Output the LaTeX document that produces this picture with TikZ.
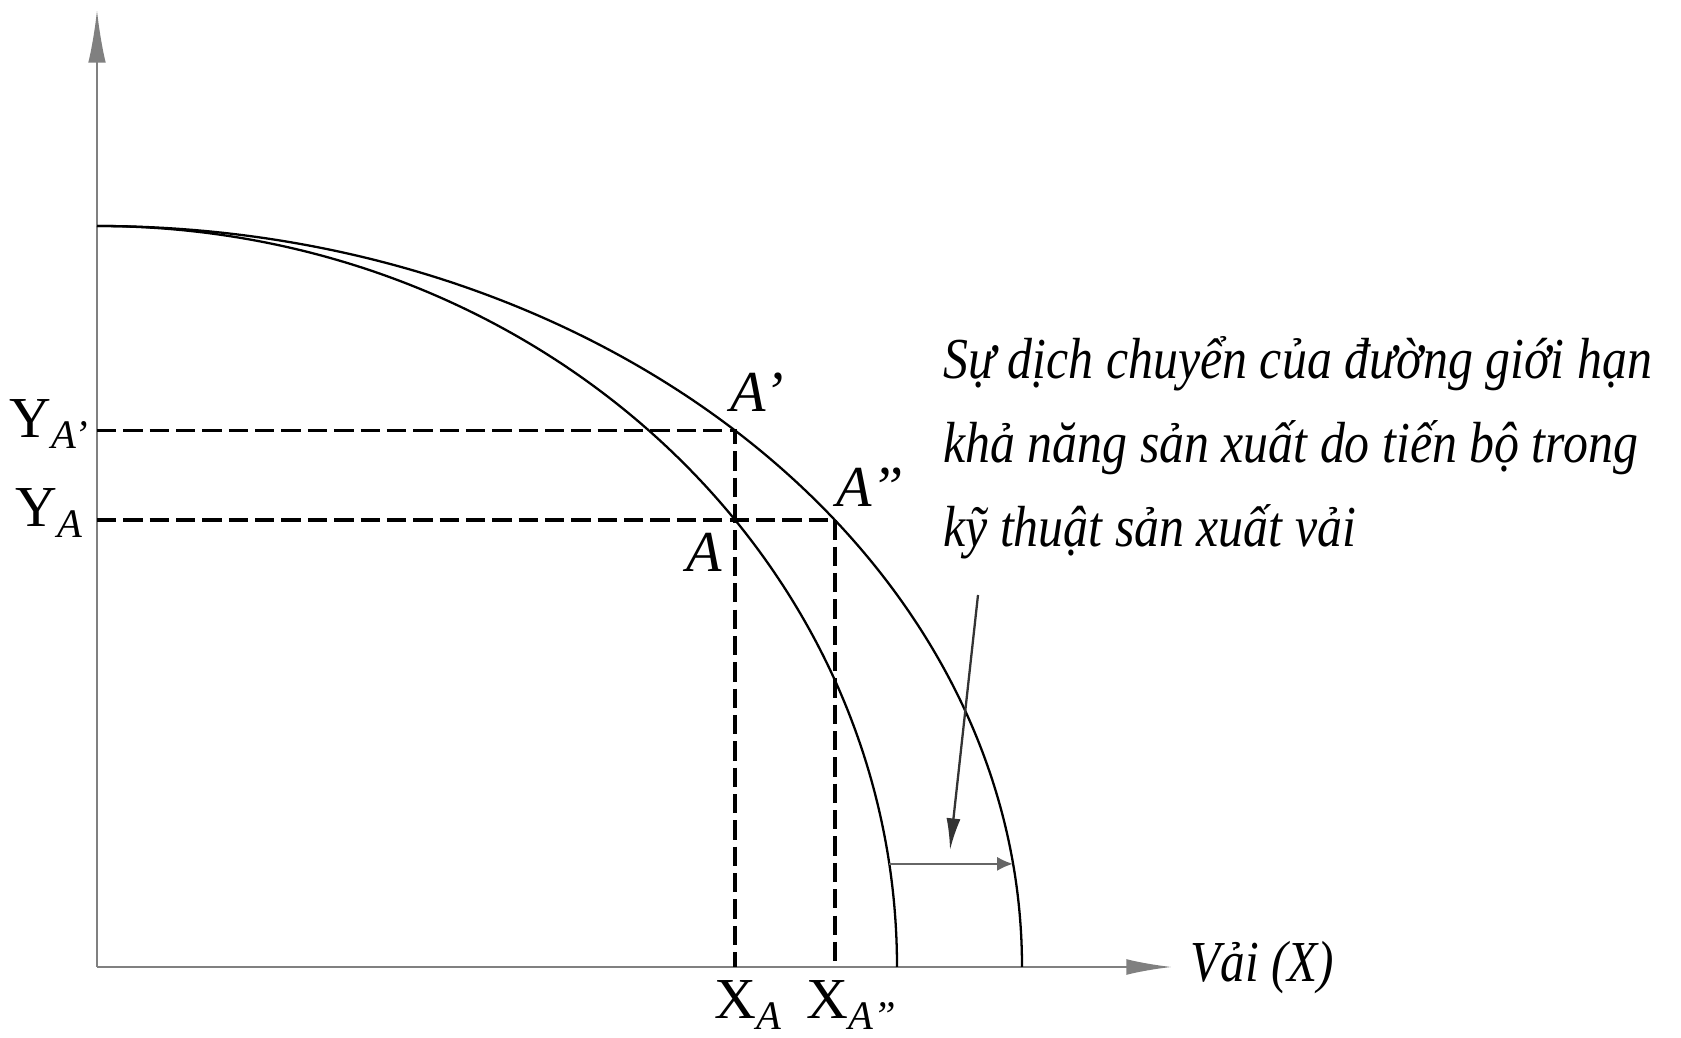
\documentclass[tikz,border=0pt]{standalone}
\usepackage{fontspec}
\setmainfont{Liberation Serif}
\usetikzlibrary{arrows.meta, calc}

\begin{document}
\begin{tikzpicture}[
    x=0.02cm, y=0.02cm,
    axis/.style={line width=1.3pt, black!50, -{Latex[length=30pt, width=10pt]}},
    ppf/.style={line width=1.3pt},
    guide/.style={line width=2.1pt, dash pattern=on 11pt off 4pt},
    arr/.style={line width=1.3pt, black!80, -{Latex[length=18pt, width=8pt]}},
    lbl/.style={font=\fontsize{33}{38}\selectfont, inner sep=0pt},
  ]
    \useasboundingbox (0,0) rectangle (1681,1038);
    \coordinate (O) at (97,71);
    \coordinate (ytop) at (97,1028);
    \coordinate (xtip) at (1172,71);

    % axes
    \draw[axis] (O) -- (ytop);
    \draw[axis, -{Latex[length=26pt, width=9pt]}] (O) -- (xtip);

    % production possibility frontiers (old and new)
    \draw[ppf] (97,812) arc[start angle=90, end angle=0, x radius=800, y radius=741];
    \draw[ppf] (97,812) arc[start angle=90, end angle=0, x radius=925, y radius=741];

    \coordinate (A)  at ($(O)+(37.1:800 and 741)$);
    \coordinate (A2) at ($(O)+(37.1:925 and 741)$);
    \coordinate (A1) at ($(O)+(46.4:925 and 741)$);

    \draw[guide] (O |- A1) -- (A1) -- (A1 |- O);
    \draw[guide] (O |- A) -- (A2) -- (A2 |- O);

    \node[lbl] (yA1) at (49,614) {Y\textsubscript{\textit{A'}}};
    \node[lbl] (yA)  at (49,525) {Y\textsubscript{\textit{A}}};
    \node[lbl] (xA)  at (748,33) {X\textsubscript{\textit{A}}};
    \node[lbl] (xA2) at (852,33) {X\textsubscript{\textit{A''}}};
    \node[lbl] (pA1) at (757,646) {\textit{A'}};
    \node[lbl] (pA2) at (870,551) {\textit{A''}};
    \node[lbl] (pA)  at (704,486) {\textit{A}};
    \node[lbl, anchor=base west] (xlab) at (1190,56)
      {\scalebox{0.85}[1]{\textit{Vải (X)}}};

    % shift of the frontier
    \coordinate (s0) at ($(O)+(8:800 and 741)$);
    \coordinate (s1) at ($(O)+(8:925 and 741)$);
    \draw[line width=1.2pt, black!60, -{Latex[length=9pt, width=8pt]}] (s0) -- (s1);

    \node[lbl, anchor=base west, align=left] (note) at (943,491)
      {\scalebox{0.86}[1]{\textit{Sự dịch chuyển của đường giới hạn}}\\[10pt]
       \scalebox{0.86}[1]{\textit{khả năng sản xuất do tiến bộ trong}}\\[10pt]
       \scalebox{0.86}[1]{\textit{kỹ thuật sản xuất vải}}};
    \coordinate (n0) at (978,443);
    \coordinate (n1) at (950,188);
    \draw[arr] (n0) -- (n1);
  \end{tikzpicture}
\end{document}
